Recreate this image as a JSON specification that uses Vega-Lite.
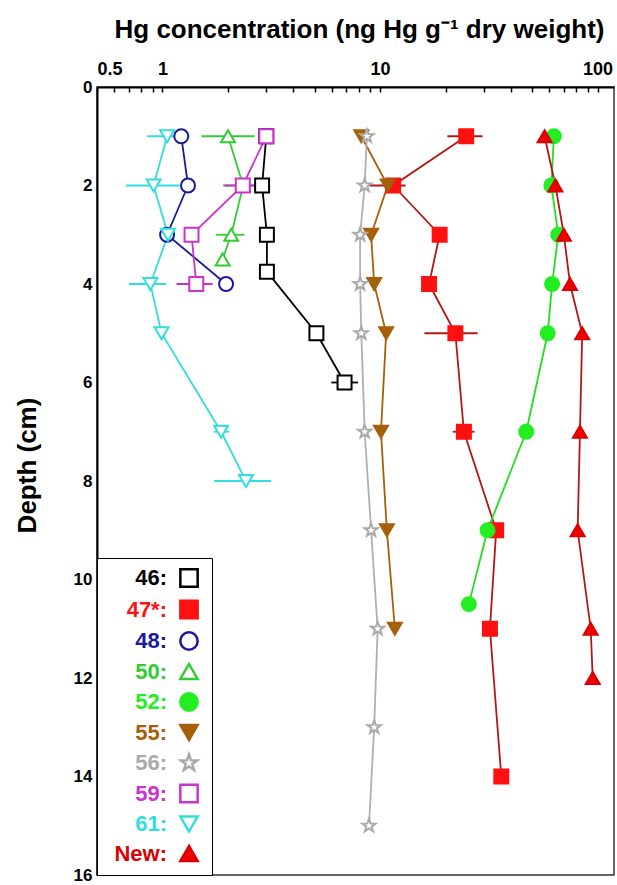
{
  "$schema": "https://vega.github.io/schema/vega-lite/v6.json",
  "width": 517,
  "height": 788,
  "autosize": {"type": "none"},
  "padding": {"left": 97, "top": 87, "right": 3, "bottom": 10},
  "background": "white",
  "config": {
    "font": "Liberation Sans",
    "view": {"stroke": "#333333", "strokeWidth": 1.5},
    "axis": {"grid": false},
    "legend": {
      "orient": "bottom-left",
      "offset": 0,
      "padding": 9,
      "strokeColor": "black",
      "fillColor": "white",
      "labelFont": "Liberation Sans",
      "labelFontSize": 22,
      "labelFontWeight": "bold",
      "labelAlign": "right",
      "labelOffset": -33,
      "symbolOffset": 72,
      "symbolSize": 300,
      "symbolStrokeWidth": 2.5,
      "rowPadding": 3.5
    }
  },
  "data": {
    "values": [
      {"series": "46", "depth": 1, "hg": 3.0, "lo": null, "hi": null},
      {"series": "46", "depth": 2, "hg": 2.87, "lo": null, "hi": null},
      {"series": "46", "depth": 3, "hg": 3.02, "lo": null, "hi": null},
      {"series": "46", "depth": 3.75, "hg": 3.02, "lo": null, "hi": null},
      {"series": "46", "depth": 5, "hg": 5.1, "lo": null, "hi": null},
      {"series": "46", "depth": 6, "hg": 6.87, "lo": 5.97, "hi": 7.92},
      {"series": "47*", "depth": 1, "hg": 24.9, "lo": 20.4, "hi": 29.6},
      {"series": "47*", "depth": 2, "hg": 11.5, "lo": 8.95, "hi": 13.1},
      {"series": "47*", "depth": 3, "hg": 18.8, "lo": null, "hi": null},
      {"series": "47*", "depth": 4, "hg": 16.8, "lo": null, "hi": null},
      {"series": "47*", "depth": 5, "hg": 22.2, "lo": 16.0, "hi": 28.1},
      {"series": "47*", "depth": 7, "hg": 24.3, "lo": 21.6, "hi": 27.2},
      {"series": "47*", "depth": 9, "hg": 34.2, "lo": null, "hi": null},
      {"series": "47*", "depth": 11, "hg": 32.0, "lo": null, "hi": null},
      {"series": "47*", "depth": 14, "hg": 36.1, "lo": null, "hi": null},
      {"series": "48", "depth": 1, "hg": 1.22, "lo": null, "hi": null},
      {"series": "48", "depth": 2, "hg": 1.31, "lo": null, "hi": null},
      {"series": "48", "depth": 3, "hg": 1.05, "lo": null, "hi": null},
      {"series": "48", "depth": 4, "hg": 1.96, "lo": null, "hi": null},
      {"series": "50", "depth": 1, "hg": 2.0, "lo": 1.51, "hi": 2.65},
      {"series": "50", "depth": 2, "hg": 2.35, "lo": 1.9, "hi": 2.9},
      {"series": "50", "depth": 3, "hg": 2.07, "lo": 1.76, "hi": 2.38},
      {"series": "50", "depth": 3.5, "hg": 1.89, "lo": null, "hi": null},
      {"series": "52", "depth": 1, "hg": 63, "lo": null, "hi": null},
      {"series": "52", "depth": 2, "hg": 61.3, "lo": null, "hi": null},
      {"series": "52", "depth": 3, "hg": 66, "lo": null, "hi": null},
      {"series": "52", "depth": 4, "hg": 61.8, "lo": null, "hi": null},
      {"series": "52", "depth": 5, "hg": 59, "lo": null, "hi": null},
      {"series": "52", "depth": 7, "hg": 47, "lo": null, "hi": null},
      {"series": "52", "depth": 9, "hg": 31.2, "lo": null, "hi": null},
      {"series": "52", "depth": 10.5, "hg": 25.6, "lo": null, "hi": null},
      {"series": "55", "depth": 1, "hg": 8.2, "lo": null, "hi": null},
      {"series": "55", "depth": 2, "hg": 10.85, "lo": null, "hi": null},
      {"series": "55", "depth": 3, "hg": 9.1, "lo": null, "hi": null},
      {"series": "55", "depth": 4, "hg": 9.4, "lo": null, "hi": null},
      {"series": "55", "depth": 5, "hg": 10.67, "lo": null, "hi": null},
      {"series": "55", "depth": 7, "hg": 10.1, "lo": null, "hi": null},
      {"series": "55", "depth": 9, "hg": 10.75, "lo": null, "hi": null},
      {"series": "55", "depth": 11, "hg": 11.7, "lo": null, "hi": null},
      {"series": "56", "depth": 1, "hg": 8.7, "lo": null, "hi": null},
      {"series": "56", "depth": 2, "hg": 8.5, "lo": null, "hi": null},
      {"series": "56", "depth": 3, "hg": 8.1, "lo": null, "hi": null},
      {"series": "56", "depth": 4, "hg": 8.1, "lo": null, "hi": null},
      {"series": "56", "depth": 5, "hg": 8.2, "lo": null, "hi": null},
      {"series": "56", "depth": 7, "hg": 8.5, "lo": null, "hi": null},
      {"series": "56", "depth": 9, "hg": 9.1, "lo": null, "hi": null},
      {"series": "56", "depth": 11, "hg": 9.75, "lo": null, "hi": null},
      {"series": "56", "depth": 13, "hg": 9.4, "lo": null, "hi": null},
      {"series": "56", "depth": 15, "hg": 8.9, "lo": null, "hi": null},
      {"series": "59", "depth": 1, "hg": 3.0, "lo": null, "hi": null},
      {"series": "59", "depth": 2, "hg": 2.34, "lo": 1.93, "hi": 2.79},
      {"series": "59", "depth": 3, "hg": 1.36, "lo": null, "hi": null},
      {"series": "59", "depth": 4, "hg": 1.43, "lo": 1.16, "hi": 1.7},
      {"series": "61", "depth": 1, "hg": 1.05, "lo": 0.85, "hi": 1.33},
      {"series": "61", "depth": 2, "hg": 0.91, "lo": 0.68, "hi": 1.2},
      {"series": "61", "depth": 3, "hg": 1.06, "lo": null, "hi": null},
      {"series": "61", "depth": 4, "hg": 0.88, "lo": 0.7, "hi": 1.04},
      {"series": "61", "depth": 5, "hg": 0.99, "lo": null, "hi": null},
      {"series": "61", "depth": 7, "hg": 1.86, "lo": 1.72, "hi": 2.03},
      {"series": "61", "depth": 8, "hg": 2.42, "lo": 1.73, "hi": 3.16},
      {"series": "New", "depth": 1, "hg": 57.1, "lo": null, "hi": null},
      {"series": "New", "depth": 2, "hg": 64, "lo": null, "hi": null},
      {"series": "New", "depth": 3, "hg": 70, "lo": null, "hi": null},
      {"series": "New", "depth": 4, "hg": 74.7, "lo": null, "hi": null},
      {"series": "New", "depth": 5, "hg": 85, "lo": null, "hi": null},
      {"series": "New", "depth": 7, "hg": 83, "lo": null, "hi": null},
      {"series": "New", "depth": 9, "hg": 81, "lo": null, "hi": null},
      {"series": "New", "depth": 11, "hg": 93, "lo": null, "hi": null},
      {"series": "New", "depth": 12, "hg": 95, "lo": null, "hi": null}
    ]
  },
  "encoding": {
    "y": {
      "field": "depth",
      "type": "quantitative",
      "scale": {"domain": [0, 16], "reverse": true, "nice": false, "zero": false},
      "axis": {
        "values": [0, 2, 4, 6, 8, 10, 12, 14, 16],
        "title": "Depth (cm)",
        "titleFontSize": 26,
        "titleFontWeight": "bold",
        "titleColor": "black",
        "titleX": -70,
        "titleY": 378,
        "titleAngle": -90,
        "titleAlign": "center",
        "titleBaseline": "middle",
        "labelFontSize": 17,
        "labelFontWeight": "bold",
        "labelColor": "black",
        "labelPadding": 5,
        "tickSize": 0,
        "domainColor": "black",
        "domainWidth": 2
      }
    }
  },
  "layer": [
    {
      "mark": {"type": "line", "strokeWidth": 1.8},
      "encoding": {
        "x": {
          "field": "hg",
          "type": "quantitative",
          "scale": {"type": "log", "domain": [0.5, 119], "nice": false},
          "axis": {
            "orient": "top",
            "values": [0.5, 0.6, 0.7, 0.8, 0.9, 1, 2, 3, 4, 5, 6, 7, 8, 9, 10, 20, 30, 40, 50, 60, 70, 80, 90, 100],
            "labelExpr": "datum.value == 0.5 ? '0.5' : datum.value == 1 ? '1' : datum.value == 10 ? '10' : datum.value == 100 ? '100' : ''",
            "labelOverlap": false,
            "labelFontSize": 18,
            "labelFontWeight": "bold",
            "labelColor": "black",
            "labelPadding": 14,
            "tickSize": -5,
            "tickColor": "black",
            "tickWidth": 1.5,
            "domainColor": "black",
            "domainWidth": 2,
            "title": "Hg concentration (ng Hg g⁻¹ dry weight)",
            "titleFontSize": 26,
            "titleFontWeight": "bold",
            "titleColor": "black",
            "titleX": 262,
            "titleY": -50,
            "titleBaseline": "alphabetic"
          }
        },
        "color": {
          "field": "series",
          "type": "nominal",
          "scale": {
            "domain": ["New", "61", "59", "56", "55", "52", "50", "48", "47*", "46"],
            "range": ["#b01818", "#33dddd", "#cc33cc", "#b0b0b0", "#a65f0a", "#22dd22", "#33cc33", "#1a1a99", "#b01818", "#000000"]
          },
          "legend": null
        },
        "order": {"field": "depth", "type": "quantitative"}
      }
    },
    {
      "transform": [{"filter": "datum.lo != null"}],
      "mark": {"type": "rule", "strokeWidth": 1.8},
      "encoding": {
        "x": {
          "field": "lo",
          "type": "quantitative",
          "scale": {"type": "log", "domain": [0.5, 119], "nice": false}
        },
        "x2": {"field": "hi"},
        "color": {"field": "series", "type": "nominal", "legend": null}
      }
    },
    {
      "mark": {"type": "point", "size": 195, "strokeWidth": 2, "opacity": 1, "filled": true},
      "encoding": {
        "x": {
          "field": "hg",
          "type": "quantitative",
          "scale": {"type": "log", "domain": [0.5, 119], "nice": false}
        },
        "shape": {
          "field": "series",
          "type": "nominal",
          "scale": {
            "domain": ["46", "47*", "48", "50", "52", "55", "56", "59", "61", "New"],
            "range": ["square", "square", "circle", "triangle-up", "circle", "triangle-down", "M0,-1L0.235,-0.324L0.951,-0.309L0.38,0.124L0.588,0.809L0,0.4L-0.588,0.809L-0.38,0.124L-0.951,-0.309L-0.235,-0.324Z", "square", "triangle-down", "triangle-up"]
          },
          "legend": {
            "title": null,
            "labelExpr": "datum.label + ':'",
            "labelColor": {"expr": "scale('stroke', datum.value)"}
          }
        },
        "stroke": {
          "field": "series",
          "type": "nominal",
          "scale": {
            "domain": ["46", "47*", "48", "50", "52", "55", "56", "59", "61", "New"],
            "range": ["#000000", "#ff1010", "#1a1a99", "#33cc33", "#22ee22", "#a65f0a", "#aaaaaa", "#cc33cc", "#33dddd", "#dd0000"]
          },
          "legend": {
            "title": null,
            "labelExpr": "datum.label + ':'",
            "labelColor": {"expr": "scale('stroke', datum.value)"}
          }
        },
        "fill": {
          "field": "series",
          "type": "nominal",
          "scale": {
            "domain": ["46", "47*", "48", "50", "52", "55", "56", "59", "61", "New"],
            "range": ["#ffffff", "#ff1010", "#ffffff", "#ffffff", "#22ee22", "#a65f0a", "#ffffff", "#ffffff", "#ffffff", "#ee0000"]
          },
          "legend": {
            "title": null,
            "labelExpr": "datum.label + ':'",
            "labelColor": {"expr": "scale('stroke', datum.value)"}
          }
        }
      }
    }
  ]
}
